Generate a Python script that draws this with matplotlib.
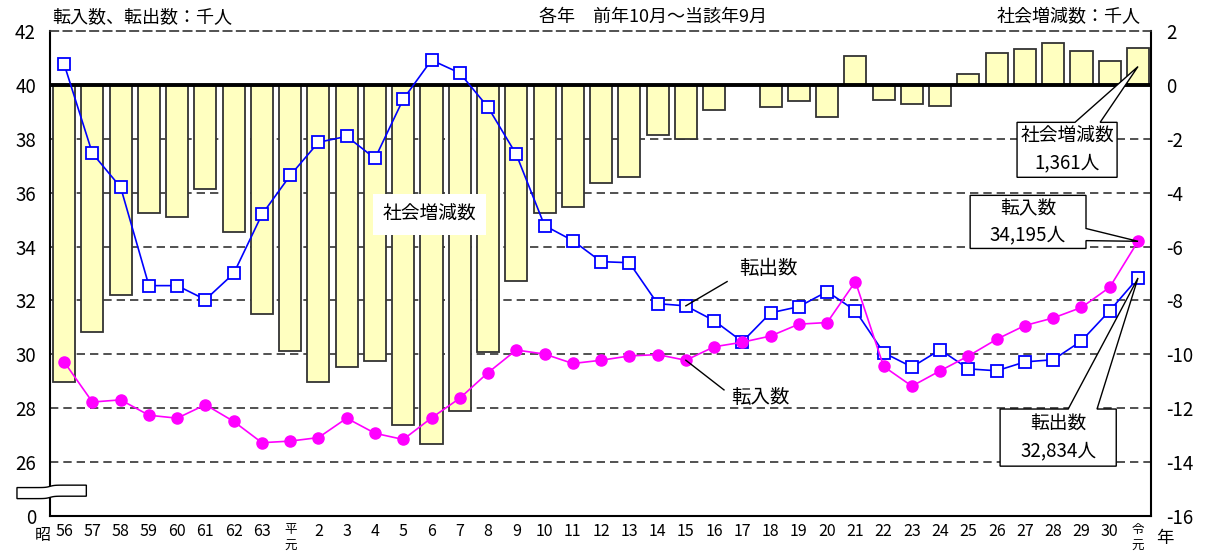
import numpy as np
import matplotlib
matplotlib.use('Agg')
import matplotlib.pyplot as plt
from matplotlib.patches import Polygon
from matplotlib.transforms import blended_transform_factory

plt.rcParams['font.family'] = ['Noto Sans CJK JP', 'DejaVu Sans']

# 年 (昭56 ... 令元)
years = ['56', '57', '58', '59', '60', '61', '62', '63', '平\n元',
         '2', '3', '4', '5', '6', '7', '8', '9', '10', '11', '12', '13',
         '14', '15', '16', '17', '18', '19', '20', '21', '22', '23', '24',
         '25', '26', '27', '28', '29', '30', '令\n元']

# 転入数 (千人)
tennyu = [29.72, 28.23, 28.31, 27.74, 27.63, 28.13, 27.51, 26.72, 26.78,
          26.91, 27.63, 27.07, 26.84, 27.64, 28.37, 29.32, 30.16, 30.01,
          29.66, 29.78, 29.94, 29.99, 29.78, 30.28, 30.45, 30.68, 31.12,
          31.18, 32.70, 29.55, 28.82, 29.39, 29.94, 30.56, 31.07, 31.35,
          31.74, 32.49, 34.195]

# 転出数 (千人)
tenshutsu = [40.77, 37.46, 36.20, 32.55, 32.55, 32.03, 33.00, 35.19, 36.64,
             37.87, 38.09, 37.27, 39.47, 40.92, 40.44, 39.17, 37.42, 34.78,
             34.22, 33.44, 33.40, 31.88, 31.80, 31.25, 30.47, 31.54, 31.77,
             32.33, 31.62, 30.06, 29.53, 30.17, 29.46, 29.39, 29.72, 29.80,
             30.50, 31.62, 32.834]

# 社会増減数 (千人)
shakai = [-11.01, -9.18, -7.81, -4.77, -4.90, -3.87, -5.46, -8.50, -9.86,
          -11.04, -10.48, -10.25, -12.63, -13.31, -12.10, -9.91, -7.26, -4.77,
          -4.55, -3.65, -3.41, -1.86, -2.02, -0.93, -0.02, -0.83, -0.60,
          -1.18, 1.08, -0.56, -0.72, -0.78, 0.41, 1.20, 1.35, 1.54,
          1.25, 0.87, 1.361]

left_ticks = [24, 26, 28, 30, 32, 34, 36, 38, 40, 42]
left_labels = ['0', '26', '28', '30', '32', '34', '36', '38', '40', '42']
right_ticks = [-16, -14, -12, -10, -8, -6, -4, -2, 0, 2]

DASH = (0, (5, 3))
W, H = 1207, 560

fig = plt.figure(figsize=(W / 100, H / 100), dpi=100)
ax = fig.add_axes([50 / W, 44 / H, 1101 / W, 485 / H])
ax2 = ax.twinx()
ax.set_zorder(ax2.get_zorder() + 1)
ax.patch.set_visible(False)

x = np.arange(len(years))

# bars + grid on the right axis
ax2.bar(x, shakai, width=0.78, color='#FFFFC0', edgecolor='#333333',
        linewidth=1.3, zorder=2)
for g in right_ticks[1:-2]:
    ax2.axhline(g, ls=DASH, color='#333333', lw=1.2, zorder=1)
ax2.axhline(0, color='black', lw=2.8, zorder=3)
ax2.set_ylim(-16, 2)
ax2.set_yticks(right_ticks, [str(t) for t in right_ticks])
ax2.tick_params(axis='y', length=0, pad=11, labelsize=13.5)

# lines on the left axis
ax.plot(x, tenshutsu, color='#0000FF', lw=1.2, marker='s', ms=8,
        mfc='white', mec='#0000FF', mew=1.3, zorder=3)
ax.plot(x, tennyu, color='#FF00FF', lw=1.2, marker='o', ms=8,
        mfc='#FF00FF', mec='#FF00FF', zorder=4)
ax.set_ylim(24, 42)
ax.set_xlim(-0.5, 38.46)
ax.set_yticks(left_ticks, left_labels)
ax.tick_params(axis='y', length=0, pad=10, labelsize=13.5)
ax.set_xticks(x, years)
ax.tick_params(axis='x', length=0, pad=5, labelsize=11.5)
for lab in ax.get_xticklabels():
    if '\n' in lab.get_text():
        lab.set_fontsize(9)
        lab.set_linespacing(1.4)

for s in ax.spines.values():
    s.set_visible(False)
for k in ['left', 'right', 'bottom']:
    ax2.spines[k].set_color('black')
    ax2.spines[k].set_linewidth(1.5)
ax2.spines['top'].set_linestyle(DASH)
ax2.spines['top'].set_color('#333333')
ax2.spines['top'].set_linewidth(1.2)

# axis break mark
bt = blended_transform_factory(ax.transAxes, ax.transData)
bx = np.linspace(-0.030, 0.033, 60)
yc = 24.895 + 0.045 * np.tanh(bx / 0.004)
brk = np.vstack([np.column_stack([bx, yc + 0.205]),
                 np.column_stack([bx[::-1], yc[::-1] - 0.205])])
ax.add_patch(Polygon(brk, closed=True, facecolor='white', edgecolor='black',
                     lw=1, transform=bt, clip_on=False, zorder=10))

trans_xlab = blended_transform_factory(ax.transData, ax.transAxes)
ax.text(-0.75, -0.022, '昭', transform=trans_xlab, ha='center', va='top',
        fontsize=11.5)
ax.text(38.95, -0.026, '年', transform=trans_xlab, ha='center', va='top',
        fontsize=12.5)

fig.text(52 / W, 1 - 17 / H, '転入数、転出数：千人', ha='left', va='center',
         fontsize=13)
fig.text(653 / W, 1 - 17 / H, '各年　前年10月～当該年9月', ha='center',
         va='center', fontsize=13)
fig.text(1141 / W, 1 - 17 / H, '社会増減数：千人', ha='right', va='center',
         fontsize=13)


def callout(x0, x1, ytop, ybot, side, a, b, tip, text):
    if side == 'top':
        pts = [(x0, ytop), (a, ytop), tip, (b, ytop), (x1, ytop),
               (x1, ybot), (x0, ybot)]
    else:
        pts = [(x0, ytop), (x1, ytop), (x1, a), tip, (x1, b),
               (x1, ybot), (x0, ybot)]
    ax.add_patch(Polygon(pts, closed=True, facecolor='white',
                         edgecolor='black', lw=1, clip_on=False, zorder=6))
    ax.text((x0 + x1) / 2, (ytop + ybot) / 2, text, ha='center', va='center',
            fontsize=13.5, linespacing=1.35, zorder=7)


last = len(years) - 1
callout(33.72, 37.26, 38.61, 36.57, 'top', 35.77, 36.66,
        (last, 40 + shakai[-1] / 2), '社会増減数\n{:,}人'.format(round(shakai[-1] * 1000)))
callout(32.06, 36.16, 35.90, 33.93, 'right', 34.67, 34.22,
        (last, tennyu[-1]), '転入数\n{:,}人'.format(round(tennyu[-1] * 1000)))
callout(33.12, 37.23, 27.97, 25.85, 'top', 35.53, 36.55,
        (last, tenshutsu[-1]), '転出数\n{:,}人'.format(round(tenshutsu[-1] * 1000)))

# plain labels
ax.text(12.92, 35.19, '社会増減数', ha='center', va='center', fontsize=13.5,
        zorder=5, bbox=dict(facecolor='white', edgecolor='none', pad=7))
i15 = years.index('15')
ax.plot([i15, 23.46], [tenshutsu[i15], 32.70], color='black', lw=1, zorder=5)
ax.text(24.91, 33.18, '転出数', ha='center', va='center', fontsize=14, zorder=5)
ax.plot([i15, 23.35], [tennyu[i15], 28.68], color='black', lw=1, zorder=5)
ax.text(24.63, 28.38, '転入数', ha='center', va='center', fontsize=14, zorder=5)

fig.savefig('out.png', dpi=100)
